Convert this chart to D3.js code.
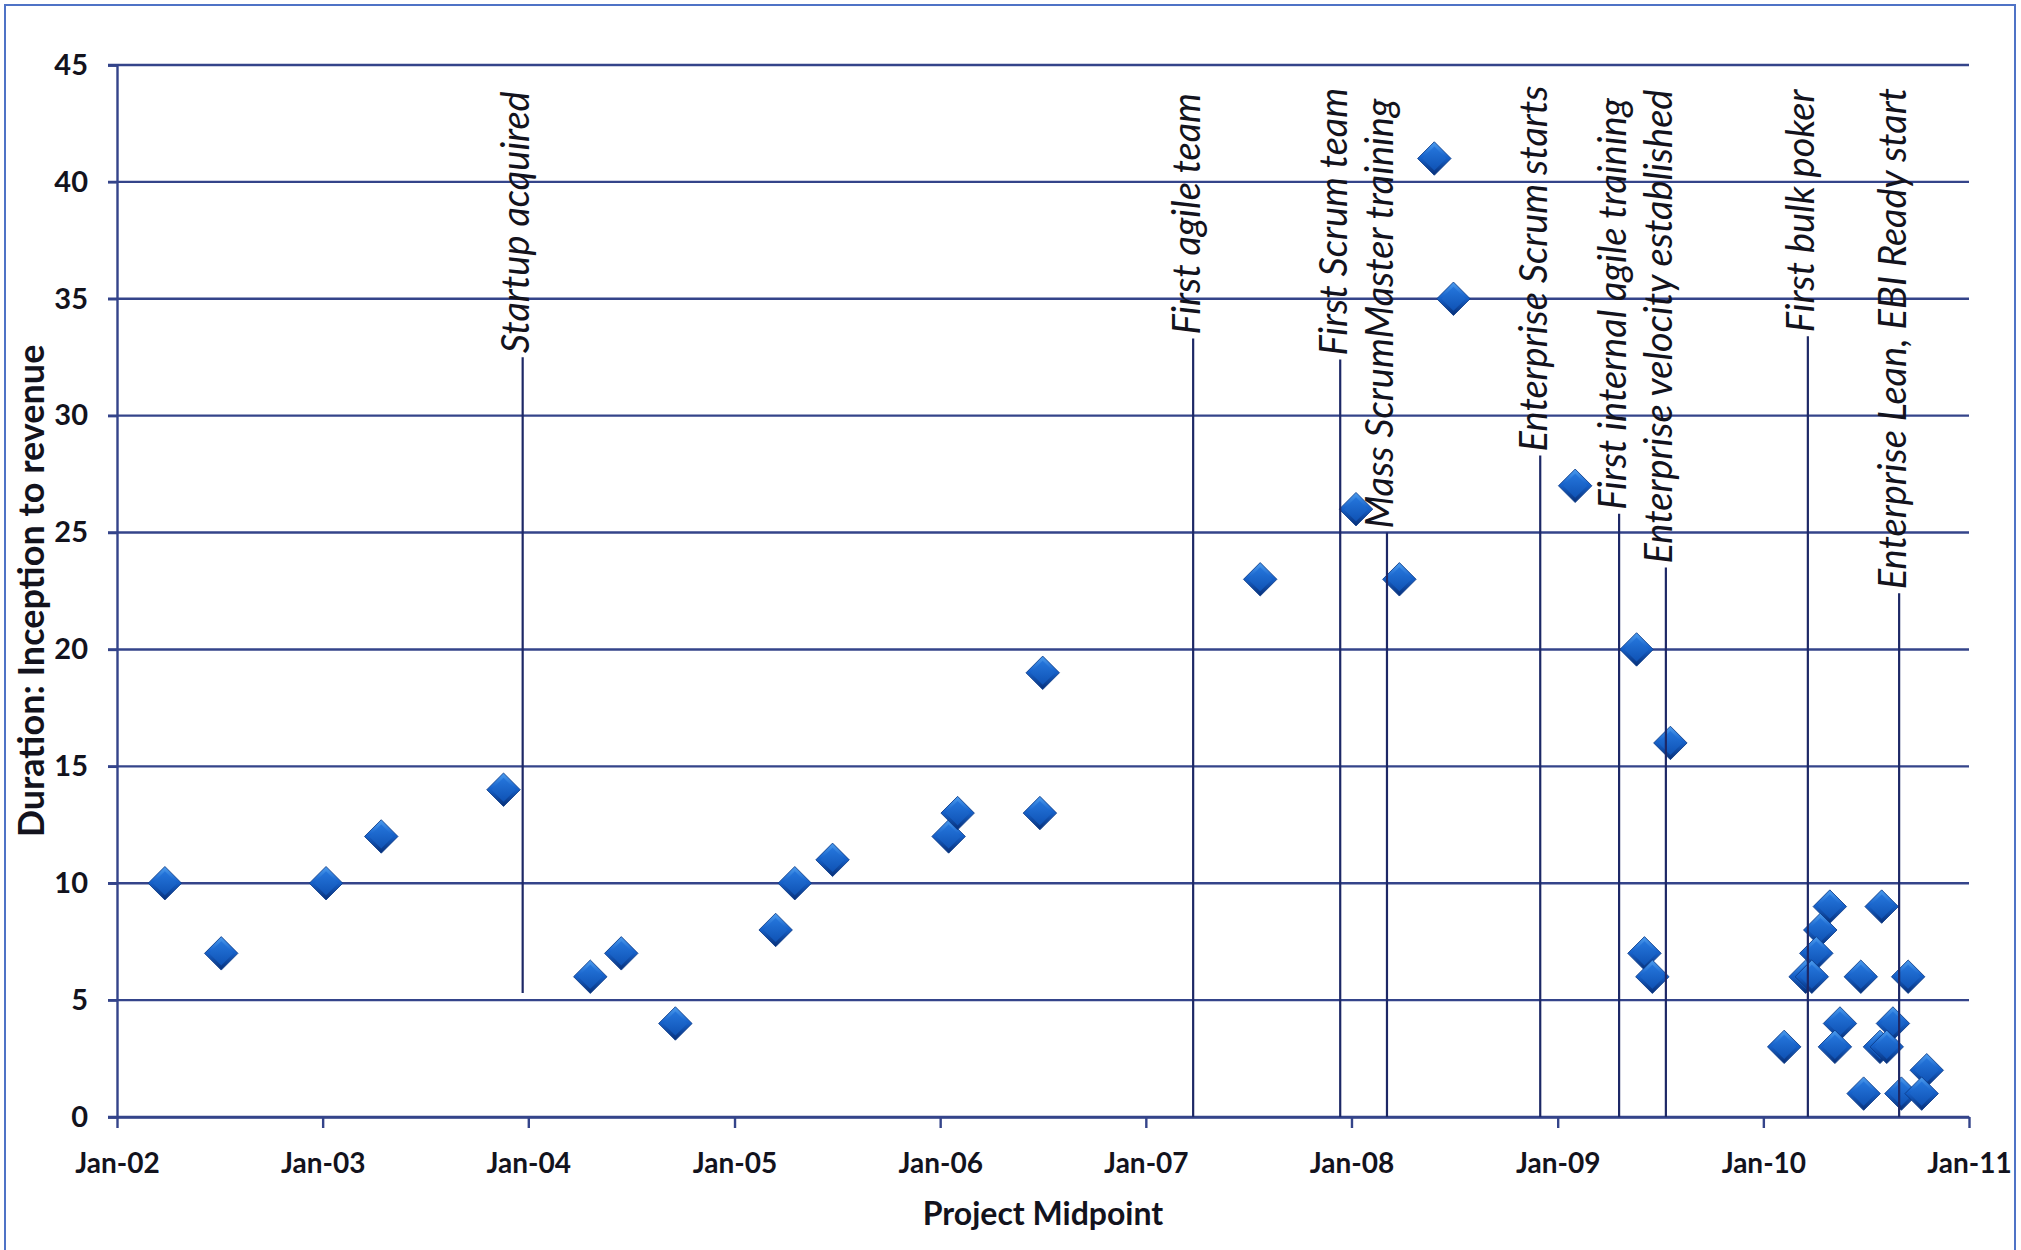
<!DOCTYPE html>
<html>
<head>
<meta charset="utf-8">
<script src="https://cdn.jsdelivr.net/npm/d3@7"></script>
<style>
  html, body { margin: 0; padding: 0; background: #ffffff; }
  svg { display: block; }
  text { font-family: Lato, "Open Sans", "Noto Sans", sans-serif; }
</style>
</head>
<body>
<svg id="chart" width="2021" height="1250"></svg>
<script>
// Project midpoint dates and their inception-to-revenue durations
const projectMidpoints = [
  "2002-03-27", "2002-07-05", "2003-01-07", "2003-04-15", "2003-11-18",
  "2004-04-20", "2004-06-14", "2004-09-18", "2005-03-15", "2005-04-18",
  "2005-06-24", "2006-01-16", "2006-02-01", "2006-06-27", "2006-07-02",
  "2007-07-23", "2008-01-09", "2008-03-26", "2008-05-27", "2008-06-30",
  "2009-02-01", "2009-05-21", "2009-06-04", "2009-06-18", "2009-07-20",
  "2010-04-29", "2010-07-30", "2010-04-12", "2010-04-05", "2010-03-17",
  "2010-03-28", "2010-06-23", "2010-09-15", "2010-05-17", "2010-08-19",
  "2010-02-07", "2010-05-08", "2010-07-27", "2010-08-08", "2010-10-18",
  "2010-06-28", "2010-09-03", "2010-10-09"
];
const durations = [
  10, 7, 10, 12, 14,
  6, 7, 4, 8, 10,
  11, 12, 13, 13, 19,
  23, 26, 23, 41, 35,
  27, 20, 7, 6, 16,
  9, 9, 8, 7, 6,
  6, 6, 6, 4, 4,
  3, 3, 3, 3, 2,
  1, 1, 1
];

// Organisational milestones drawn as labelled vertical markers
const eventNames = [
  "Startup acquired",
  "First agile team",
  "First Scrum team",
  "Mass ScrumMaster training",
  "Enterprise Scrum starts",
  "First internal agile training",
  "Enterprise velocity established",
  "First bulk poker",
  "Enterprise Lean, EBI Ready start"
];
const eventDates = [
  "2003-12-22", "2007-03-26", "2007-12-12", "2008-03-04", "2008-12-01",
  "2009-04-20", "2009-07-12", "2010-03-21", "2010-08-30"
];
const eventTop = [32.5, 33.3, 32.4, 25.0, 28.3, 25.8, 23.5, 33.4, 22.4];
const eventBottom = [5.3, 0, 0, 0, 0, 0, 0, 0, 0];

const yTicks = [0, 5, 10, 15, 20, 25, 30, 35, 40, 45];
const xTickYears = [2002, 2003, 2004, 2005, 2006, 2007, 2008, 2009, 2010, 2011];

const xTitle = "Project Midpoint";
const yTitle = "Duration: Inception to revenue";

const parse = d3.timeParse("%Y-%m-%d");
const svg = d3.select("#chart");

const plot = { left: 117, right: 1969, top: 65, bottom: 1117 };

const x = d3.scaleTime()
  .domain([new Date(2002, 0, 1), new Date(2011, 0, 1)])
  .range([plot.left, plot.right]);
const y = d3.scaleLinear()
  .domain([0, 45])
  .range([plot.bottom, plot.top]);

const gridColor = "#34448a";
const lineColor = "#1d2866";
const textColor = "#13131d";

// frame around the figure
svg.append("rect")
  .attr("x", 5).attr("y", 5)
  .attr("width", 2010).attr("height", 1270)
  .attr("fill", "none")
  .attr("stroke", "#4f73c6")
  .attr("stroke-width", 2);

// marker gradients
const defs = svg.append("defs");
const gOuter = defs.append("linearGradient").attr("id", "diaOuter")
  .attr("x1", 0).attr("y1", 0).attr("x2", 1).attr("y2", 1);
gOuter.append("stop").attr("offset", "0%").attr("stop-color", "#4c9cee");
gOuter.append("stop").attr("offset", "45%").attr("stop-color", "#1763cc");
gOuter.append("stop").attr("offset", "100%").attr("stop-color", "#072f78");
const gInner = defs.append("linearGradient").attr("id", "diaInner")
  .attr("x1", 0).attr("y1", 0).attr("x2", 1).attr("y2", 1);
gInner.append("stop").attr("offset", "0%").attr("stop-color", "#2576dc");
gInner.append("stop").attr("offset", "100%").attr("stop-color", "#0f52b4");

// horizontal gridlines (extend past the axis as tick marks)
svg.append("g").selectAll("line")
  .data(yTicks)
  .join("line")
  .attr("x1", plot.left - 9)
  .attr("x2", plot.right)
  .attr("y1", d => y(d))
  .attr("y2", d => y(d))
  .attr("stroke", gridColor)
  .attr("stroke-width", 2.4);

// y axis
const yAxis = svg.append("g")
  .attr("transform", `translate(${plot.left},0)`)
  .call(d3.axisLeft(y).tickValues(yTicks).tickSize(9).tickPadding(20));
yAxis.select(".domain").attr("stroke", gridColor).attr("stroke-width", 2.4);
yAxis.selectAll(".tick line").attr("stroke", gridColor).attr("stroke-width", 2.4);
yAxis.selectAll(".tick text")
  .attr("fill", textColor)
  .style("font-size", "29px")
  .style("font-weight", "700")
  .style("font-family", "Lato, 'Open Sans', sans-serif");

// x axis
const xAxis = svg.append("g")
  .attr("transform", `translate(0,${plot.bottom})`)
  .call(d3.axisBottom(x)
    .tickValues(xTickYears.map(yr => new Date(yr, 0, 1)))
    .tickFormat(d3.timeFormat("%b-%y"))
    .tickSize(11)
    .tickSizeOuter(0)
    .tickPadding(25));
xAxis.select(".domain").attr("stroke", gridColor).attr("stroke-width", 2.4);
xAxis.selectAll(".tick line").attr("stroke", gridColor).attr("stroke-width", 2.4);
xAxis.selectAll(".tick text")
  .attr("fill", textColor)
  .style("font-size", "28px")
  .style("font-weight", "700")
  .style("font-family", "Lato, 'Open Sans', sans-serif");

// data markers: bevelled diamonds
const outerDia = d3.symbol(d3.symbolSquare, 560)();
const innerDia = d3.symbol(d3.symbolSquare, 290)();
const points = projectMidpoints.map((d, i) => ({ date: parse(d), value: durations[i] }));
const marks = svg.append("g").selectAll("g")
  .data(points)
  .join("g")
  .attr("transform", d => `translate(${x(d.date)},${y(d.value)}) rotate(45)`);
marks.append("path")
  .attr("d", outerDia)
  .attr("fill", "url(#diaOuter)")
  .attr("stroke", "#0a3987")
  .attr("stroke-width", 0.8);
marks.append("path")
  .attr("d", innerDia)
  .attr("fill", "url(#diaInner)");

// milestone markers and their labels
const events = eventNames.map((name, i) => ({
  name, date: parse(eventDates[i]), top: eventTop[i], bottom: eventBottom[i]
}));
svg.append("g").selectAll("line")
  .data(events)
  .join("line")
  .attr("x1", d => x(d.date))
  .attr("x2", d => x(d.date))
  .attr("y1", d => y(d.bottom))
  .attr("y2", d => y(d.top))
  .attr("stroke", lineColor)
  .attr("stroke-width", 2.2);

svg.append("g").selectAll("text")
  .data(events)
  .join("text")
  .attr("transform", d => `translate(${x(d.date)},${y(d.top) - 4}) rotate(-90)`)
  .attr("dy", "0.17em")
  .attr("text-anchor", "start")
  .attr("fill", textColor)
  .style("font-size", "38px")
  .style("font-style", "italic")
  .text(d => d.name);

// axis titles
svg.append("text")
  .attr("x", (plot.left + plot.right) / 2)
  .attr("y", 1225)
  .attr("text-anchor", "middle")
  .attr("fill", textColor)
  .style("font-size", "32px")
  .style("font-weight", "700")
  .text(xTitle);

svg.append("text")
  .attr("transform", `translate(44,${(plot.top + plot.bottom) / 2}) rotate(-90)`)
  .attr("text-anchor", "middle")
  .attr("fill", textColor)
  .style("font-size", "36px")
  .style("font-weight", "700")
  .text(yTitle);
</script>
</body>
</html>
